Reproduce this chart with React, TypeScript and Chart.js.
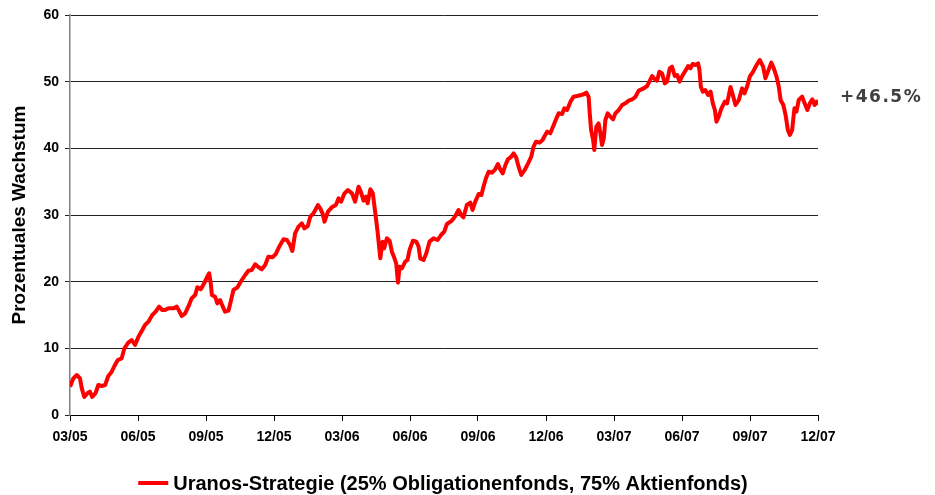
import React, { useEffect, useRef } from "react";
import { Chart, registerables } from "chart.js";

Chart.register(...registerables);

// Months since 03/05 (x position of each reading)
const monthOffsets: number[] = [
  0.0, 0.15, 0.3, 0.44, 0.52, 0.63, 0.78, 0.88, 0.98, 1.13, 1.25, 1.4, 1.55, 1.69, 1.84, 1.96, 2.11, 2.28, 2.4, 2.57, 2.72, 2.87, 3.02, 3.19, 3.31, 3.46, 3.63, 3.78, 3.93, 4.07,
  4.19, 4.34, 4.56, 4.71, 4.83, 4.93, 5.08, 5.22, 5.37, 5.52, 5.62, 5.77, 5.92, 6.04, 6.14, 6.21, 6.26, 6.4, 6.5, 6.62, 6.74, 6.84, 6.99, 7.09, 7.21, 7.39, 7.58, 7.73, 7.87, 8.02, 8.17, 8.31,
  8.46, 8.61, 8.75, 8.93, 9.08, 9.23, 9.42, 9.57, 9.71, 9.81, 9.93, 10.08, 10.23, 10.34, 10.49, 10.6, 10.74, 10.94, 11.04, 11.14, 11.23, 11.38, 11.55, 11.73, 11.85, 11.96, 12.11, 12.26, 12.44,
  12.58, 12.73, 12.83, 12.95, 13.06, 13.13, 13.25, 13.36, 13.47, 13.57, 13.69, 13.79, 13.86, 13.98, 14.1, 14.2, 14.3, 14.39, 14.47, 14.54, 14.64, 14.79, 14.89, 14.98, 15.13, 15.28, 15.38, 15.45, 15.6, 15.72, 15.86, 16.04, 16.22, 16.37, 16.51, 16.63,
  16.85, 17.0, 17.14, 17.26, 17.36, 17.51, 17.66, 17.76, 17.88, 18.03, 18.15, 18.25, 18.35, 18.47, 18.62, 18.76, 18.88, 18.98, 19.09, 19.21, 19.32, 19.47, 19.57, 19.68, 19.79, 19.91, 20.06, 20.21, 20.35, 20.45, 20.56, 20.71, 20.85, 20.94,
  21.05, 21.19, 21.34, 21.46, 21.56, 21.71, 21.81, 21.93, 22.08, 22.22, 22.37, 22.55, 22.69, 22.78, 22.88, 22.93, 22.99, 23.08, 23.13, 23.22, 23.32, 23.4, 23.47, 23.55, 23.62, 23.72, 23.84, 23.96, 24.06, 24.21, 24.36, 24.5, 24.65, 24.8, 24.94, 25.09,
  25.31, 25.46, 25.56, 25.68, 25.8, 25.9, 26.0, 26.12, 26.24, 26.34, 26.46, 26.56, 26.68, 26.79, 26.89, 27.01, 27.15, 27.27, 27.37, 27.47, 27.59, 27.71, 27.77, 27.83, 27.92, 28.03, 28.15, 28.26, 28.36, 28.45, 28.52, 28.62, 28.74, 28.89, 28.99,
  29.14, 29.25, 29.36, 29.51, 29.65, 29.76, 29.88, 29.99, 30.14, 30.29, 30.43, 30.58, 30.68, 30.79, 30.94, 31.05, 31.17, 31.27, 31.35, 31.47, 31.57, 31.67, 31.76, 31.86, 31.96, 32.05, 32.15, 32.3, 32.41, 32.53, 32.64, 32.75, 32.85, 32.94, 33.0,
];

// Percentage growth of the strategy
const growthValues: number[] = [
  4.25, 5.5, 6.0, 5.5, 4.0, 2.7, 3.3, 3.5, 2.7, 3.3, 4.5, 4.35, 4.5, 5.85, 6.5, 7.35, 8.25, 8.5, 10.0, 10.85, 11.25, 10.5, 11.75, 12.75, 13.5, 14.0, 15.0, 15.5, 16.25, 15.75,
  15.75, 16.0, 16.0, 16.25, 15.5, 14.85, 15.25, 16.25, 17.5, 18.0, 19.15, 18.85, 19.75, 20.65, 21.25, 19.75, 18.0, 17.75, 16.75, 17.25, 16.25, 15.5, 15.65, 17.0, 18.75, 19.15, 20.25, 21.0, 21.65, 21.75, 22.6, 22.2,
  21.85, 22.5, 23.75, 23.65, 24.15, 25.25, 26.35, 26.25, 25.5, 24.6, 27.25, 28.25, 28.75, 28.0, 28.35, 29.75, 30.25, 31.5, 31.0, 30.25, 29.0, 30.5, 31.15, 31.5, 32.5, 32.0, 33.25, 33.75, 33.25,
  32.0, 34.25, 33.5, 32.15, 32.75, 31.75, 33.85, 33.25, 30.25, 27.5, 23.5, 26.0, 25.0, 26.5, 26.15, 24.5, 23.65, 22.75, 19.85, 22.25, 22.0, 23.0, 23.25, 24.75, 26.15, 26.0, 25.25, 23.5, 23.25, 24.25, 26.0, 26.5, 26.25, 27.0, 27.5, 28.65,
  29.15, 29.85, 30.75, 30.0, 29.65, 31.5, 31.85, 30.75, 32.0, 33.15, 33.0, 34.35, 35.5, 36.5, 36.35, 36.85, 37.65, 36.85, 36.25, 37.5, 38.35, 38.75, 39.25, 38.65, 37.25, 36.0, 36.75, 37.75, 38.75, 40.25, 41.0, 40.85, 41.25, 41.85,
  42.5, 42.25, 43.5, 44.5, 45.25, 45.15, 46.0, 45.75, 47.0, 47.75, 47.85, 48.0, 48.15, 48.35, 47.75, 45.25, 42.75, 41.25, 39.75, 43.25, 43.75, 42.25, 40.5, 41.5, 44.25, 45.25, 44.75, 44.35, 45.25, 45.75, 46.5, 46.75, 47.15, 47.35, 47.7, 48.65,
  49.0, 49.35, 50.0, 50.85, 50.35, 50.15, 51.5, 51.25, 49.75, 50.0, 52.0, 52.25, 50.85, 51.0, 50.0, 50.85, 51.65, 52.35, 52.0, 52.65, 52.5, 52.75, 51.75, 49.25, 48.5, 48.75, 48.0, 48.5, 46.75, 45.75, 44.0, 44.75, 46.0, 47.0, 46.75,
  49.2, 47.9, 46.5, 47.25, 49.0, 48.25, 49.35, 50.75, 51.5, 52.5, 53.25, 52.25, 50.5, 51.5, 52.85, 52.0, 50.75, 49.25, 47.25, 46.5, 45.0, 42.75, 42.0, 42.75, 46.0, 45.5, 47.25, 47.75, 46.75, 45.75, 46.75, 47.35, 46.5, 47.0, 46.5,
];

const xTickLabels: string[] = ["03/05", "06/05", "09/05", "12/05", "03/06", "06/06", "09/06", "12/06", "03/07", "06/07", "09/07", "12/07"];
const yTickValues: number[] = [0, 10, 20, 30, 40, 50, 60];
const seriesLabel = "Uranos-Strategie (25% Obligationenfonds, 75% Aktienfonds)";
const yAxisTitle = "Prozentuales Wachstum";
const endAnnotation = "+46.5%";

const FONT = '"Liberation Sans", Arial, sans-serif';

const overlayPlugin = {
  id: "overlay",
  afterDraw(chart: any) {
    const ctx = chart.ctx as CanvasRenderingContext2D;
    const area = chart.chartArea;
    ctx.save();
    // End annotation
    ctx.fillStyle = "#404040";
    ctx.font = 'bold 17px "DejaVu Sans", sans-serif';
    (ctx as any).letterSpacing = "1.5px";
    ctx.textAlign = "left";
    ctx.textBaseline = "middle";
    const yScale = chart.scales.y;
    const lastVal = growthValues[growthValues.length - 1];
    ctx.fillText(endAnnotation, area.right + 22, yScale.getPixelForValue(lastVal) - 7);
    (ctx as any).letterSpacing = "0px";

    // Legend
    ctx.font = `bold 20px ${FONT}`;
    const textW = ctx.measureText(seriesLabel).width;
    const sampleW = 30;
    const gap = 5;
    const total = sampleW + gap + textW;
    const startX = 443 - total / 2;
    const ly = 483;
    ctx.strokeStyle = "#ff0000";
    ctx.lineWidth = 4;
    ctx.beginPath();
    ctx.moveTo(startX, ly);
    ctx.lineTo(startX + sampleW, ly);
    ctx.stroke();
    ctx.fillStyle = "#000000";
    ctx.textBaseline = "middle";
    ctx.fillText(seriesLabel, startX + sampleW + gap, ly + 1);
    ctx.restore();
  },
};

export default function App() {
  const canvasRef = useRef<HTMLCanvasElement | null>(null);

  useEffect(() => {
    document.body.style.margin = "0";
    const canvas = canvasRef.current;
    if (!canvas) return;
    const points = monthOffsets.map((m, i) => ({ x: m, y: growthValues[i] }));
    const chart = new Chart(canvas, {
      type: "line",
      data: {
        datasets: [
          {
            label: seriesLabel,
            data: points,
            borderColor: "#ff0000",
            backgroundColor: "#ff0000",
            borderWidth: 4,
            pointRadius: 0,
            tension: 0,
            borderJoinStyle: "round",
          },
        ],
      },
      options: {
        responsive: false,
        animation: false,
        layout: { padding: { top: 15, right: 117, left: 0, bottom: 0 } },
        plugins: {
          legend: { display: false },
          tooltip: { enabled: false },
        },
        scales: {
          x: {
            type: "linear",
            min: 0,
            max: 33,
            afterFit: (scale: any) => {
              scale.height = 80;
            },
            afterBuildTicks: (scale: any) => {
              scale.ticks = xTickLabels.map((_, i) => ({ value: i * 3 }));
            },
            ticks: {
              autoSkip: false,
              maxRotation: 0,
              padding: 8,
              color: "#000000",
              font: { family: FONT, size: 14, weight: "bold" },
              callback: (v: any) => xTickLabels[Math.round(Number(v) / 3)] ?? "",
            },
            grid: {
              drawOnChartArea: false,
              drawTicks: true,
              tickLength: 6,
              color: "#000000",
            },
            border: { display: true, color: "#000000", width: 1 },
          },
          y: {
            min: 0,
            max: 60,
            afterFit: (scale: any) => {
              scale.width = 70;
            },
            afterBuildTicks: (scale: any) => {
              scale.ticks = yTickValues.map((v) => ({ value: v }));
            },
            ticks: {
              padding: 6,
              color: "#000000",
              font: { family: FONT, size: 14, weight: "bold" },
            },
            grid: {
              color: "#222222",
              lineWidth: 1,
              drawTicks: true,
              tickLength: 5,
            },
            border: { display: true, color: "#808080", width: 1.5 },
            title: {
              display: true,
              text: yAxisTitle,
              color: "#000000",
              font: { family: FONT, size: 19, weight: "bold" },
              padding: { top: 8, bottom: 4 },
            },
          },
        },
      },
      plugins: [overlayPlugin],
    });
    return () => chart.destroy();
  }, []);

  return (
    <div style={{ width: 935, height: 495, background: "#ffffff" }}>
      <canvas ref={canvasRef} width={935} height={495} />
    </div>
  );
}
